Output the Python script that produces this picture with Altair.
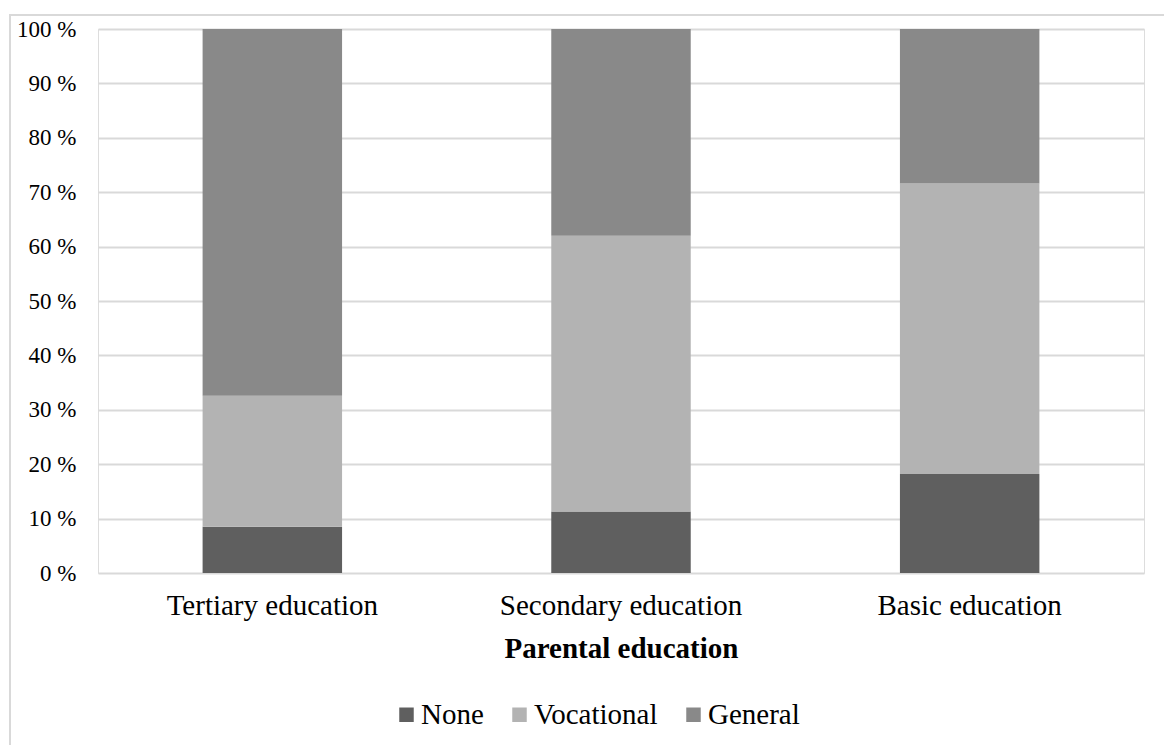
import altair as alt
import pandas as pd

# Share of students by upper-secondary track, within each parental education level
categories = ["Tertiary education", "Secondary education", "Basic education"]
tracks = ["None", "Vocational", "General"]
none_share = [8.5, 11.3, 18.2]
vocational_share = [24.1, 50.7, 53.4]
general_share = [67.4, 38.0, 28.4]
track_colors = ["#5f5f5f", "#b3b3b3", "#898989"]

rows = []
for i, cat in enumerate(categories):
    for j, (trk, vals) in enumerate(zip(tracks, [none_share, vocational_share, general_share])):
        rows.append({"Parental education": cat, "Track": trk, "Share": vals[i], "order": j})
df = pd.DataFrame(rows)

FONT = "Liberation Serif"

bars = alt.Chart(df).mark_bar(stroke=None).encode(
    x=alt.X(
        "Parental education:N",
        sort=categories,
        scale=alt.Scale(paddingInner=0.6, paddingOuter=0.3),
        axis=alt.Axis(
            title="Parental education",
            titleFont=FONT, titleFontSize=29, titleFontWeight="bold", titleColor="#000000",
            titlePadding=14,
            labelFont=FONT, labelFontSize=29, labelColor="#000000", labelPadding=18,
            labelLimit=0, labelAngle=0, ticks=False, domain=False,
        ),
    ),
    y=alt.Y(
        "Share:Q",
        stack="zero",
        scale=alt.Scale(domain=[0, 100], nice=False),
        axis=alt.Axis(
            title=None, values=list(range(0, 101, 10)),
            labelExpr="datum.value + ' %'",
            labelFont=FONT, labelFontSize=23, labelColor="#000000", labelPadding=22,
            ticks=False, domain=False,
            grid=True, gridColor="#d9d9d9", gridWidth=2,
        ),
    ),
    color=alt.Color(
        "Track:N",
        sort=tracks,
        scale=alt.Scale(domain=tracks, range=track_colors),
        legend=alt.Legend(
            title=None, orient="none", direction="horizontal",
            legendX=294, legendY=671,
            symbolType="square", symbolSize=210, symbolStrokeWidth=0,
            labelFont=FONT, labelFontSize=29, labelColor="#000000",
            columnPadding=21, labelOffset=0, labelLimit=0,
        ),
    ),
    order=alt.Order("order:Q"),
)

# Light frame around the whole figure
frame = alt.Chart(pd.DataFrame({"k": [0]})).mark_rect(
    fill=None, stroke="#d9d9d9", strokeWidth=2, clip=False
).encode(
    x=alt.value(-88), x2=alt.value(1200),
    y=alt.value(-14), y2=alt.value(800),
)

chart = alt.layer(frame, bars).properties(
    width=1046, height=544,
    padding={"left": 98, "top": 29, "right": 20, "bottom": 172},
    autosize=alt.AutoSizeParams(type="none"),
).configure_view(stroke=None).configure(background="white")

chart.save("out.html", embed_options={"renderer": "svg", "actions": False})
